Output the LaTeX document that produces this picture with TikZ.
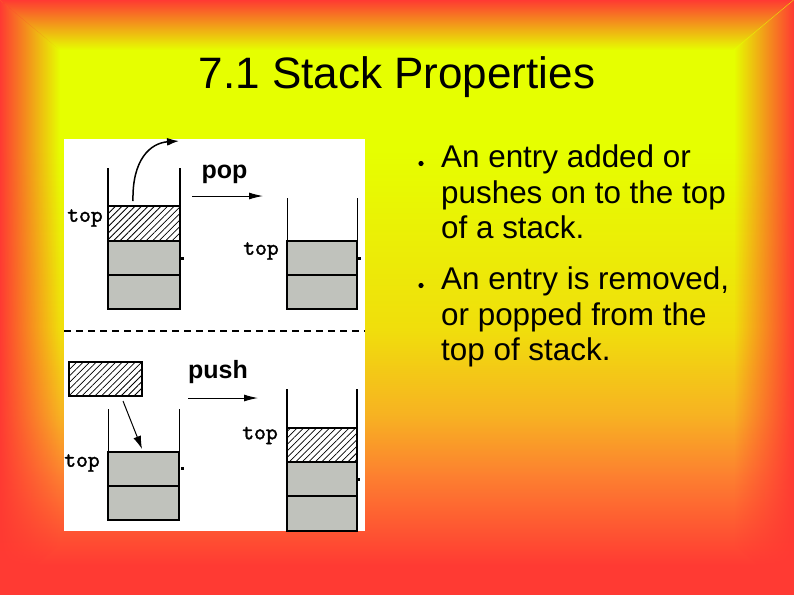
\documentclass[tikz,border=0pt]{standalone}
\usepackage{fontspec}
\setmainfont{Liberation Sans}
\newfontfamily\toptt[FakeBold=1.6]{lmmono10-regular.otf}
\usetikzlibrary{arrows.meta,patterns.meta,fadings}
\definecolor{bgred}{RGB}{255,58,51}
\definecolor{bgyel}{RGB}{230,255,0}
\definecolor{bgyb}{RGB}{240,222,12}
\definecolor{bgorA}{RGB}{247,178,34}
\definecolor{bgorB}{RGB}{253,128,48}
\definecolor{cellgray}{RGB}{192,194,188}
\tikzfading[name=fadeleft, left color=transparent!0, right color=transparent!100]
\tikzfading[name=faderight, left color=transparent!100, right color=transparent!0]
\tikzfading[name=fadetop, top color=transparent!0, bottom color=transparent!100]
\tikzfading[name=fadebottom, top color=transparent!100, bottom color=transparent!0]
\tikzset{
  cellbox/.style={draw=black, line width=2pt, minimum width=72pt, minimum height=34.3pt, inner sep=0pt, outer sep=0pt},
  graycell/.style={cellbox, fill=cellgray},
  hatchcell/.style={cellbox, fill=white, postaction={pattern={Lines[angle=45,distance=4.6pt,line width=0.8pt]}}},
  wallthick/.style={line width=2pt},
  wallthin/.style={line width=1pt},
  toplbl/.style={font=\fontsize{22.5}{26}\toptt\selectfont, inner sep=0pt},
  oplbl/.style={font=\fontsize{25}{29}\selectfont\bfseries, inner sep=0pt},
  arr/.style={line width=1pt, -{Latex[length=14pt,width=7pt]}},
  btxt/.style={font=\fontsize{31.4}{36}\selectfont, anchor=base west, inner sep=0pt},
  tick/.style={fill=black}
}
\begin{document}
\begin{tikzpicture}[x=1pt,y=-1pt]
\useasboundingbox (0,0) rectangle (794,595);
% background
\fill[bgyel] (0,0) rectangle (794,150.5);
\shade[top color=bgyel, bottom color=bgyb] (0,150) rectangle (794,330.5);
\shade[top color=bgyb, bottom color=bgorA] (0,330) rectangle (794,415.5);
\shade[top color=bgorA, bottom color=bgorB] (0,415) rectangle (794,475.5);
\shade[top color=bgorB, bottom color=bgred] (0,475) rectangle (794,565.5);
\fill[bgred] (0,565) rectangle (794,595);
\fill[bgred, path fading=fadetop] (0,0) -- (794,0) -- (734,50) -- (60,50) -- cycle;
\fill[bgred, path fading=fadeleft] (0,0) -- (60,50) -- (60,545) -- (0,595) -- cycle;
\fill[bgred, path fading=faderight] (794,0) -- (734,50) -- (734,545) -- (794,595) -- cycle;

% title
\node[font=\fontsize{44}{50}\selectfont, anchor=base, inner sep=0pt] (title) at (397,88) {7.1 Stack Properties};

% bullets
\fill (421,163.5) circle (2.6pt);
\fill (421,285.5) circle (2.6pt);
\node[btxt] (b1a) at (441,167.5) {An entry added or};
\node[btxt] (b1b) at (441,203) {pushes on to the top};
\node[btxt] (b1c) at (441,238.5) {of a stack.};
\node[btxt] (b2a) at (441,289.5) {An entry is removed,};
\node[btxt] (b2b) at (441,325) {or popped from the};
\node[btxt] (b2c) at (441,360.5) {top of stack.};

% figure panel
\fill[white] (64,139) rectangle (365,531);

% upper-left stack (before pop)
\node[hatchcell] (s1h) at (144,223.5) {};
\node[graycell] (s1a) at (144,258) {};
\node[graycell] (s1b) at (144,292.3) {};
\draw[wallthick] (s1h.north west) -- ++(0,-38);
\draw[wallthick] (s1h.north east) -- ++(0,-38);
\node[toplbl] (t1) at (85,218) {top};
\fill[tick] (181,257) rectangle (184,259.5);

% pop arrows
\coordinate (cs) at (133,201);
\coordinate (ce) at (179,141);
\draw[line width=1.5pt, -{Latex[length=12pt,width=8pt]}] (cs) .. controls (132,160) and (150,143) .. (ce);
\node[oplbl] (pop) at (224.5,174) {pop};
\coordinate (pa) at (192,196);
\coordinate (pb) at (263,196);
\draw[arr] (pa) -- (pb);

% upper-right stack (after pop)
\node[graycell, minimum width=70pt] (s2a) at (322,258) {};
\node[graycell, minimum width=70pt] (s2b) at (322,292.3) {};
\draw[wallthin] (s2a.north west) -- ++(0,-43);
\draw[wallthin] (s2a.north east) -- ++(0,-43);
\node[toplbl] (t2) at (261,251) {top};
\fill[tick] (358,257) rectangle (361,259.5);

% dashed separator
\coordinate (dl) at (64,331);
\coordinate (dr) at (365,331);
\draw[line width=2pt, dash pattern=on 7pt off 5pt] (dl) -- (dr);

% free hatched box
\node[hatchcell, minimum width=73pt] (fr) at (105.7,379) {};
\node[oplbl] (push) at (218,372) {push};
\coordinate (qa) at (188,398);
\coordinate (qb) at (258,398);
\draw[arr] (qa) -- (qb);
\coordinate (da) at (123,401);
\coordinate (db) at (142,449);
\draw[line width=1pt, -{Latex[length=13pt,width=8pt]}] (da) -- (db);

% lower-left stack (before push)
\node[graycell, minimum width=71pt] (s3a) at (143.5,469) {};
\node[graycell, minimum width=71pt] (s3b) at (143.5,503.3) {};
\draw[wallthin] (s3a.north west) -- ++(0,-43);
\draw[wallthin] (s3a.north east) -- ++(0,-43);
\node[toplbl] (t3) at (82,463) {top};
\fill[tick] (181,467) rectangle (184,469.5);

% lower-right stack (after push)
\node[hatchcell, minimum width=70pt] (s4h) at (322,445) {};
\node[graycell, minimum width=70pt] (s4a) at (322,479.3) {};
\node[graycell, minimum width=70pt] (s4b) at (322,513.6) {};
\draw[wallthick] (s4h.north west) -- ++(0,-39);
\draw[wallthick] (s4h.north east) -- ++(0,-39);
\node[toplbl] (t4) at (260,435.5) {top};
\fill[tick] (357,478) rectangle (360,480.5);
\end{tikzpicture}
\end{document}
